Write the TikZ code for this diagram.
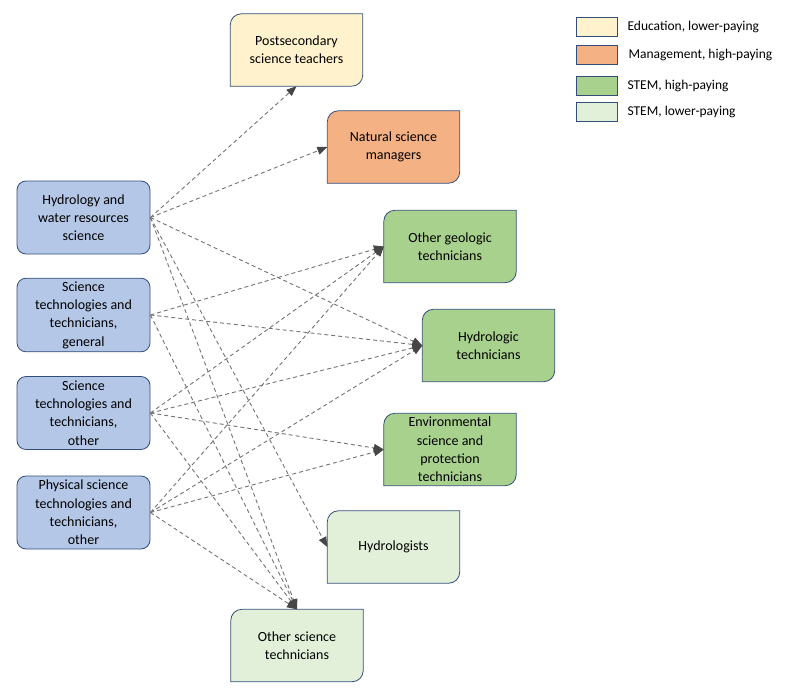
\documentclass[tikz,border=0pt]{standalone}
\usepackage{fontspec}
\setmainfont{Carlito}
\usetikzlibrary{arrows.meta,backgrounds}

\definecolor{boxline}{RGB}{52,78,122}
\definecolor{srcfill}{RGB}{180,199,231}
\definecolor{edufill}{RGB}{255,242,204}
\definecolor{mgmtfill}{RGB}{244,177,131}
\definecolor{stemhi}{RGB}{169,209,142}
\definecolor{stemlo}{RGB}{226,240,217}
\definecolor{linkgray}{RGB}{115,115,115}
\definecolor{tipgray}{RGB}{70,70,70}

\tikzset{
  src/.style={draw=boxline, fill=srcfill, line width=0.8pt, rounded corners=9pt,
    minimum width=133pt, minimum height=73pt, align=center,
    font=\fontsize{14}{18.3}\selectfont},
  tgt/.style={minimum width=132pt, minimum height=72pt, align=center,
    font=\fontsize{14}{18.3}\selectfont},
  tgtshape/.style={draw=boxline, line width=0.8pt},
  link/.style={draw=linkgray, dash pattern=on 4pt off 3pt, line width=0.9pt,
    -{Triangle[length=10pt,width=8pt,color=tipgray]}},
  legbox/.style={draw=boxline, line width=0.8pt, minimum width=41pt, minimum height=19pt},
  legtext/.style={anchor=west, font=\fontsize{13.5}{16}\selectfont}
}

\begin{document}
\begin{tikzpicture}[x=1pt,y=-1pt]
\useasboundingbox (0,0) rectangle (792,698);

% sources
\node[src] (s1) at (83.5,217.5) {Hydrology and\\water resources\\science};
\node[src] (s2) at (83.5,315) {Science\\technologies and\\technicians,\\general};
\node[src] (s3) at (83.5,413) {Science\\technologies and\\technicians,\\other};
\node[src] (s4) at (83.5,512.5) {Physical science\\technologies and\\technicians,\\other};

% targets
\node[tgt] (post) at (296.5,50) {Postsecondary\\science teachers};
\node[tgt] (mgr) at (393.5,147) {Natural science\\managers};
\node[tgt] (geo) at (450,246.5) {Other geologic\\technicians};
\node[tgt] (hydt) at (488.5,345.5) {Hydrologic\\technicians};
\node[tgt] (env) at (450,449.5) {Environmental\\science and\\protection\\technicians};
\node[tgt] (hyd) at (393.5,547) {Hydrologists};
\node[tgt] (oth) at (297,645.5) {Other science\\technicians};

% target boxes: round top left and bottom right
\begin{scope}[on background layer]
\foreach \n/\c in {post/edufill, mgr/mgmtfill, geo/stemhi, hydt/stemhi,
                   env/stemhi, hyd/stemlo, oth/stemlo}
  \draw[tgtshape, fill=\c] (\n.south west) -- ([yshift=-11pt]\n.north west)
    arc[start angle=180, end angle=90, radius=11pt] -- (\n.north east)
    -- ([yshift=11pt]\n.south east)
    arc[start angle=0, end angle=-90, radius=11pt] -- cycle;
\end{scope}

% links
\foreach \a/\b in {s1/post.south, s1/mgr.west, s1/hydt.west, s1/hyd.west, s1/oth.north,
                   s2/geo.west, s2/hydt.west, s2/oth.north,
                   s3/geo.west, s3/hydt.west, s3/env.west, s3/oth.north,
                   s4/geo.west, s4/hydt.west, s4/env.west, s4/oth.north}
  \draw[link] (\a.east) -- (\b);

% legend
\node[legbox, fill=edufill] (l1) at (596.5,27) {};
\node[legbox, fill=mgmtfill] (l2) at (596.5,55) {};
\node[legbox, fill=stemhi] (l3) at (596.5,85.5) {};
\node[legbox, fill=stemlo] (l4) at (596.5,111.5) {};
\node[legtext] (t1) at (624,27) {Education, lower-paying};
\node[legtext] (t2) at (625,55) {Management, high-paying};
\node[legtext] (t3) at (624,85.5) {STEM, high-paying};
\node[legtext] (t4) at (624,111.5) {STEM, lower-paying};
\end{tikzpicture}
\end{document}
